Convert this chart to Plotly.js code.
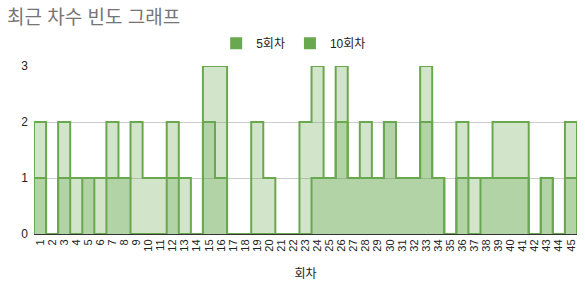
<!DOCTYPE html>
<html>
<head>
<meta charset="utf-8">
<script src="https://cdn.plot.ly/plotly-3.0.1.min.js"></script>
<style>html,body{margin:0;padding:0;background:#fff}#chart{width:585px;height:294px}</style>
</head>
<body>
<div id="chart"></div>
<script>
const categories = ['1','2','3','4','5','6','7','8','9','10','11','12','13','14','15','16','17','18','19','20','21','22','23','24','25','26','27','28','29','30','31','32','33','34','35','36','37','38','39','40','41','42','43','44','45'];
const seriesNames = ['5회차', '10회차'];
const last5 =  [1,0,1,0,1,0,1,1,0,0, 0,1,0,0,2,1,0,0,0,0, 0,0,0,1,1,2,1,1,1,2, 1,1,2,1,0,1,0,1,1,1, 1,0,1,0,1];
const last10 = [2,0,2,1,1,1,2,1,2,1, 1,2,1,0,3,3,0,0,2,1, 0,0,2,3,1,3,1,2,1,2, 1,1,3,1,0,2,1,1,2,2, 2,0,1,0,2];
const yTicks = [0,1,2,3];

const GREEN = '#6aa84f';
const FONT = 'Arial, "Liberation Sans", "Noto Sans CJK KR", sans-serif';

function stepXY(vals) {
  const x = [0.5], y = [0];
  vals.forEach((v, i) => {
    x.push(i + 0.5, i + 1.5);
    y.push(v, v);
  });
  x.push(vals.length + 0.5);
  y.push(0);
  return {x, y};
}

const traces = [];
[last5, last10].forEach((vals, k) => {
  const s = stepXY(vals);
  traces.push({
    type: 'scatter', mode: 'lines', x: s.x, y: s.y,
    name: seriesNames[k], showlegend: false, hoverinfo: 'skip',
    fill: 'tozeroy', fillcolor: 'rgba(106,168,79,0.3)',
    line: {color: GREEN, width: 2, shape: 'linear'}
  });
});
seriesNames.forEach(n => {
  traces.push({
    type: 'scatter', mode: 'markers', x: [null], y: [null], name: n,
    marker: {symbol: 'square', size: 12, color: GREEN}
  });
});

const tickvals = categories.map((c, i) => i + 1);

const layout = {
  width: 585, height: 294,
  margin: {l: 34, r: 8, t: 66, b: 60},
  paper_bgcolor: '#fff', plot_bgcolor: '#fff',
  font: {family: FONT, color: '#222', size: 12},
  title: {
    text: '최근 차수 빈도 그래프',
    x: 0.012, xref: 'container', xanchor: 'left',
    y: 0.942, yref: 'container', yanchor: 'middle',
    font: {family: FONT, size: 19, color: '#757575'}
  },
  showlegend: true,
  legend: {
    orientation: 'h', x: 0.502, xanchor: 'center', xref: 'container',
    y: 0.853, yref: 'container', yanchor: 'middle',
    font: {family: FONT, size: 12, color: '#222'},
    itemclick: false, tracegroupgap: 0
  },
  xaxis: {
    range: [0.5, categories.length + 0.5],
    tickmode: 'array', tickvals: tickvals, ticktext: categories,
    tickangle: -90, tickfont: {size: 11, color: '#222'},
    showgrid: false, zeroline: false,
    showline: true, linecolor: '#333', linewidth: 1,
    ticks: '', fixedrange: true,
    title: {text: '회차', font: {size: 12, color: '#222'}, standoff: 18}
  },
  yaxis: {
    range: [0, 3], tickvals: yTicks,
    gridcolor: '#cccccc', zeroline: false, showline: false,
    ticks: '', ticklabelstandoff: 5,
    tickfont: {size: 12, color: '#222'}, fixedrange: true
  }
};

Plotly.newPlot('chart', traces, layout, {displayModeBar: false, staticPlot: true});
</script>
</body>
</html>
